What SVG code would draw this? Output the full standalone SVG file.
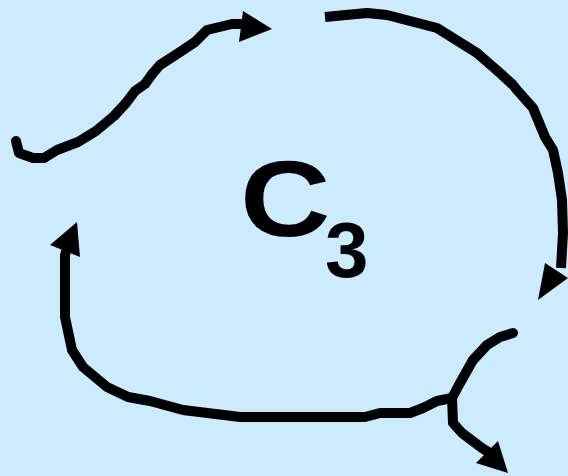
<svg xmlns="http://www.w3.org/2000/svg" width="568" height="476" viewBox="0 0 568 476">
<style>
.ln{fill:none;stroke:#000;stroke-width:10;stroke-linejoin:round;stroke-linecap:round}
.hd{fill:#000;stroke:none}
.lbl{font-family:"Liberation Sans",Arial,sans-serif;font-weight:bold;fill:#000}
</style>
<rect width="568" height="476" fill="#CCEBFF"/>
<g id="connectors">
<path class="ln" d="M16,141 L19,153 L33,158 L44,158 L57,150 L78,142 L96,131 L114,116 L126,103 L135,91 L145,84 L153,73 L160,65 L180,52 L195,42 L207,30 L232,24 L246,24"/>
<polygon class="hd" points="272,29 243,11 239,42"/>
<path class="ln" style="stroke-linecap:butt" d="M325,17 L367,13 L387,15 L437,28 L477,53 L500,73 L513,85 L517,90 L533,108 L545,137 L553,150 L558,173 L562,200 L563,233 L561,268"/>
<polygon class="hd" points="538,300 545,263 568,278"/>
<path class="ln" d="M513,333 L500,337 L487,345 L473,360 L460,383 L452,398 L453,423 L462,433 L482,448 L490,453"/>
<polygon class="hd" points="508,473 476,463 498,441"/>
<path class="ln" d="M452,398 L437,401 L423,408 L410,413 L380,413 L365,417 L240,417 L183,410 L150,401 L128,397 L107,387 L83,367 L72,350 L65,317 L65,255 L67,248"/>
<polygon class="hd" points="77,222 50,245 80,257"/>
</g>
<g id="label">
<text class="lbl" transform="translate(240,236) scale(1.16,1)" font-size="108">C</text>
<text class="lbl" x="325" y="277" font-size="78">3</text>
</g>
</svg>
